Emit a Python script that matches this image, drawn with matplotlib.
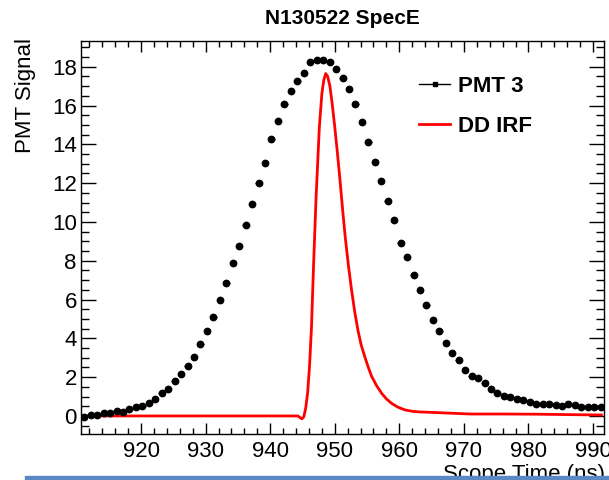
import numpy as np
import matplotlib
matplotlib.use('Agg')
from matplotlib import pyplot as plt
from matplotlib.lines import Line2D
from matplotlib.patches import Rectangle
from matplotlib.ticker import MultipleLocator

plt.rcParams['font.family'] = ['Liberation Sans', 'DejaVu Sans']

# PMT 3 histogram, 1 ns bins
pmt_time = np.arange(911.2, 991.5, 1.0)
pmt_signal = [
    -0.03, 0.03, 0.07, 0.15, 0.15, 0.24, 0.21, 0.36, 0.47, 0.53,
    0.69, 0.87, 1.17, 1.39, 1.79, 2.15, 2.59, 3.04, 3.71, 4.36,
    5.10, 5.98, 6.84, 7.87, 8.76, 9.86, 10.92, 12.00, 13.02, 14.29,
    15.21, 16.07, 16.73, 17.24, 17.66, 18.22, 18.34, 18.34, 18.24, 17.89,
    17.41, 16.83, 16.06, 15.13, 14.10, 13.09, 12.11, 11.08, 10.11, 8.90,
    8.18, 7.26, 6.51, 5.72, 4.96, 4.40, 3.76, 3.25, 2.87, 2.37,
    2.06, 1.96, 1.72, 1.41, 1.19, 1.01, 0.98, 0.89, 0.84, 0.74,
    0.62, 0.60, 0.62, 0.57, 0.52, 0.60, 0.55, 0.46, 0.48, 0.48,
    0.48,
]

# DD IRF curve
irf_time = [911.0, 944.3, 944.9, 945.2, 945.5, 945.8, 946.1, 946.4, 946.7,
            947.1, 947.6, 948.0, 948.3, 948.6, 948.9, 949.25, 949.6, 950.0,
            950.4, 950.8, 951.2, 951.6, 952.1, 952.6, 953.1, 953.6, 954.1,
            954.7, 955.2, 955.7, 956.5, 957.3, 958.0, 958.8, 959.8, 960.9,
            962.0, 963.0, 966.0, 971.0, 976.0, 981.5, 986.0, 991.3]
irf_signal = [0.0, 0.0, -0.15, -0.05, 0.4, 1.2, 2.6, 4.6, 7.6,
              11.2, 14.8, 16.6, 17.3, 17.65, 17.5, 17.0, 16.1, 14.9,
              13.6, 12.2, 10.7, 9.3, 7.8, 6.5, 5.35, 4.4, 3.65,
              3.0, 2.5, 2.05, 1.55, 1.15, 0.88, 0.65, 0.45, 0.31,
              0.24, 0.21, 0.17, 0.10, 0.10, 0.09, 0.07, 0.05]

fig = plt.figure(figsize=(6.09, 4.8), dpi=100)
W, H = 609.0, 480.0
ax = fig.add_axes([81 / W, 46 / H, 523 / W, 393.3 / H])

ax.plot(irf_time, irf_signal, color='red', lw=2, zorder=2)
ax.errorbar(pmt_time, pmt_signal, xerr=0.5, fmt='o', color='black',
            ms=4.6, elinewidth=1, capsize=0, zorder=3)

ax.set_xlim(910.7, 991.7)
ax.set_ylim(-0.93, 19.34)
ax.xaxis.set_major_locator(MultipleLocator(10))
ax.xaxis.set_minor_locator(MultipleLocator(2))
ax.yaxis.set_major_locator(MultipleLocator(2))
ax.yaxis.set_minor_locator(MultipleLocator(0.5))
ax.tick_params(axis='both', which='both', direction='in', top=True, right=True,
               labelsize=16, width=1)
ax.tick_params(axis='x', which='major', length=8, pad=5)
ax.tick_params(axis='x', which='minor', length=4.2)
ax.tick_params(axis='y', which='major', length=10.8, pad=3)
ax.tick_params(axis='y', which='minor', length=5.8)
for s in ax.spines.values():
    s.set_linewidth(1)

handles = [Line2D([], [], color='black', lw=1, marker='s', ms=2.5),
           Line2D([], [], color='red', lw=2)]
ax.legend(handles, ['PMT 3', 'DD IRF'], frameon=False, loc='upper left',
          bbox_to_anchor=(419 / W, 1 - 76 / H), bbox_transform=fig.transFigure,
          borderpad=0, borderaxespad=0, handlelength=1.4, handletextpad=0.35,
          labelspacing=0.85, prop={'weight': 'bold', 'size': 16})

fig.text(342.5 / W, 1 - 18.5 / H, 'N130522 SpecE', ha='center', va='center',
         fontsize=15, fontweight='bold')
fig.text(26 / W, 1 - 38 / H, 'PMT Signal', rotation=90, ha='center', va='top',
         fontsize=16)
fig.text(605 / W, 0.0, 'Scope Time (ns)', ha='right', va='baseline', fontsize=16)

# slide bar at the bottom
fig.patches.append(Rectangle((25 / W, 0), 1 - 25 / W, 4.5 / H,
                             transform=fig.transFigure, color='#5a88c4',
                             zorder=10))

plt.savefig('out.png', dpi=100)
